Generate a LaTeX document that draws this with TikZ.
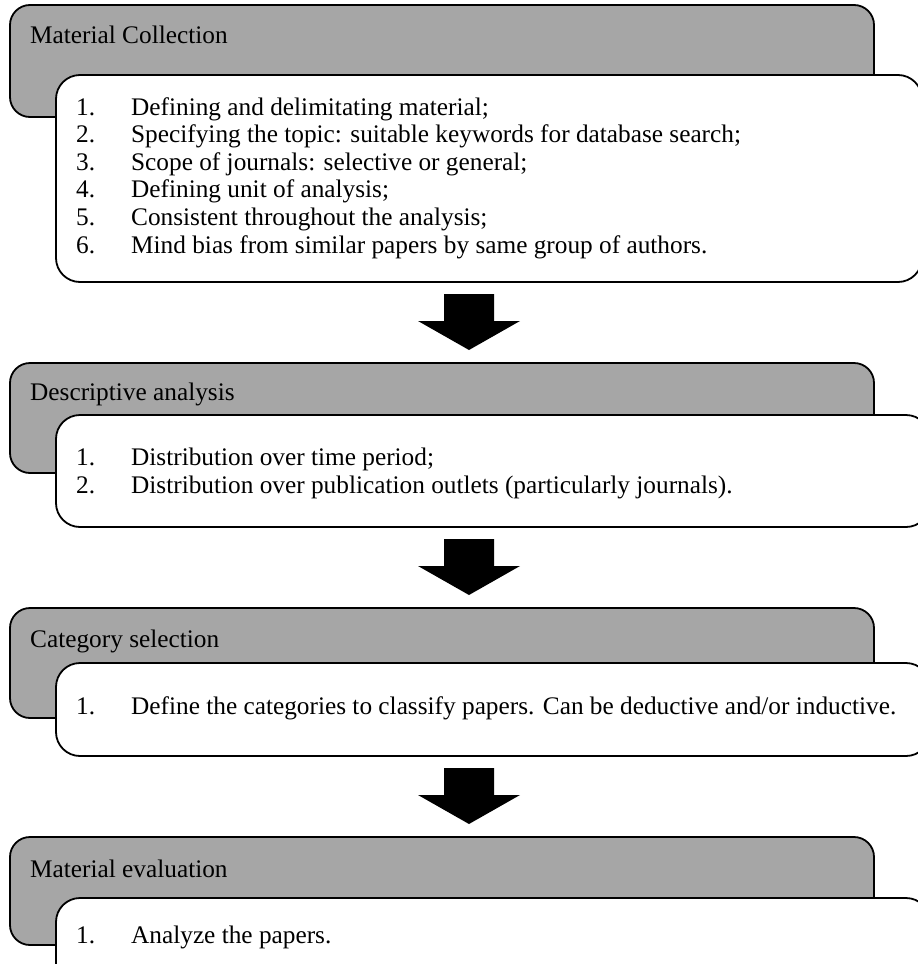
\documentclass[tikz,border=0pt]{standalone}
\usepackage{fontspec}
\setmainfont{Liberation Serif}
\definecolor{panelgrey}{HTML}{A6A6A6}
\tikzset{
  headbox/.style={draw=black, fill=panelgrey, line width=1.8pt, rounded corners=20pt},
  listbox/.style={draw=black, fill=white, line width=1.8pt, rounded corners=24pt},
  txt/.style={anchor=base west, inner sep=0pt, font=\fontsize{25.3}{27.6}\selectfont},
  downarrow/.pic={\fill[black] (-25,0) -- (25,0) -- (25,27) -- (51,27) -- (0,56) -- (-51,27) -- (-25,27) -- cycle;}
}
% one numbered line of a list: name, baseline, number, text
\newcommand\listline[4]{\node[txt] (#1) at (76,#2) {\makebox[55pt][l]{#3}#4};}
\begin{document}
\begin{tikzpicture}[x=1pt, y=-1pt]
\useasboundingbox (0,0) rectangle (918,964);
\begin{scope}
\clip (0,0) rectangle (918,964);

% --- Material Collection ---
\draw[headbox] (10,5) rectangle (874,117);
\draw[listbox] (56,75) rectangle (922,282);
\node[txt] (t1) at (30,43) {Material Collection};
\listline{a1}{115}{1.}{Defining and delimitating material;}
\listline{a2}{142.6}{2.}{Specifying the topic: suitable keywords for database search;}
\listline{a3}{170.2}{3.}{Scope of journals: selective or general;}
\listline{a4}{197.8}{4.}{Defining unit of analysis;}
\listline{a5}{225.4}{5.}{Consistent throughout the analysis;}
\listline{a6}{253}{6.}{Mind bias from similar papers by same group of authors.}

\pic at (469,294) {downarrow};

% --- Descriptive analysis ---
\draw[headbox] (10,363) rectangle (874,473);
\draw[listbox] (56,415) rectangle (930,527);
\node[txt] (t2) at (30,400) {Descriptive analysis};
\listline{b1}{465}{1.}{Distribution over time period;}
\listline{b2}{493}{2.}{Distribution over publication outlets (particularly journals).}

\pic at (469,539) {downarrow};

% --- Category selection ---
\draw[headbox] (10,608) rectangle (874,718);
\draw[listbox] (56,663) rectangle (930,756);
\node[txt] (t3) at (30,647) {Category selection};
\listline{c1}{714}{1.}{Define the categories to classify papers. Can be deductive and/or inductive.}

\pic at (469,768) {downarrow};

% --- Material evaluation ---
\draw[headbox] (10,837) rectangle (874,945);
\draw[listbox] (56,898) rectangle (930,1010);
\node[txt] (t4) at (30,877) {Material evaluation};
\listline{d1}{943}{1.}{Analyze the papers.}
\end{scope}
\end{tikzpicture}
\end{document}
